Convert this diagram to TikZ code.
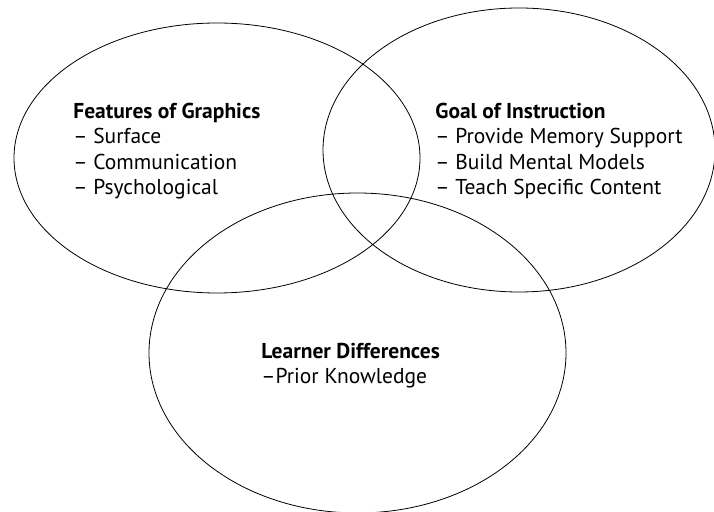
\documentclass[tikz,border=0pt]{standalone}
\usepackage{fontspec}
\setmainfont{PT Sans}
\usepackage{tikz}

\begin{document}
\begin{tikzpicture}[x=1pt,y=1pt,line width=0.8pt,
    every node/.style={align=left,anchor=north west,inner sep=0pt,
      font=\fontsize{21.5}{25.5}\selectfont}]
    \useasboundingbox (0,0) rectangle (714,511);
    \draw (217,353) ellipse (203 and 135)
    (73,408.5) node (features) {\textbf{Features of Graphics}\\-- Surface\\-- Communication\\-- Psychological}
    (519,361) ellipse (196 and 142)
    (435,408.5) node (goal) {\textbf{Goal of Instruction}\\-- Provide Memory Support\\-- Build Mental Models\\-- Teach Specific Content}
    (357.5,158) ellipse (208.5 and 160)
    (261,168.5) node (learner) {\textbf{Learner Differences}\\--Prior Knowledge};
  \end{tikzpicture}
\end{document}
